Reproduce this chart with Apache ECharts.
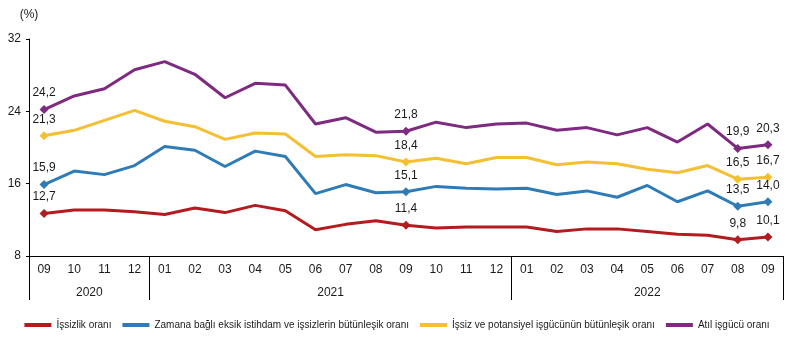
<!DOCTYPE html>
<html>
<head>
    <meta charset="utf-8">
    <title>Issizlik</title>
    <script src="https://cdn.jsdelivr.net/npm/echarts@6/dist/echarts.min.js"></script>
    <style>
        html, body { margin: 0; padding: 0; background: #fff; }
    </style>
</head>
<body>

<div id='line' style="width: 794px; height: 352px;"></div>
<script type="text/javascript">
    // aylar (2020-09 .. 2022-09)
    var months = ['09','10','11','12','01','02','03','04','05','06','07','08','09','10','11','12','01','02','03','04','05','06','07','08','09'];
    var years = ['2020', '2021', '2022'];
    var yearCounts = [4, 12, 9];

    var issizlik = [12.7,13.1,13.1,12.9,12.6,13.3,12.8,13.6,13.0,10.9,11.5,11.9,11.4,11.1,11.2,11.2,11.2,10.7,11.0,11.0,10.7,10.4,10.3,9.8,10.1];
    var zamana = [15.9,17.4,17.0,18.0,20.1,19.7,17.9,19.6,19.0,14.9,15.9,15.0,15.1,15.7,15.5,15.4,15.5,14.8,15.2,14.5,15.8,14.0,15.2,13.5,14.0];
    var potansiyel = [21.3,21.9,23.0,24.1,22.9,22.3,20.9,21.6,21.5,19.0,19.2,19.1,18.4,18.8,18.2,18.9,18.9,18.1,18.4,18.2,17.6,17.2,18.0,16.5,16.7];
    var atil = [24.2,25.7,26.5,28.6,29.5,28.1,25.5,27.1,26.9,22.6,23.3,21.7,21.8,22.8,22.2,22.6,22.7,21.9,22.2,21.4,22.2,20.6,22.6,19.9,20.3];

    // etiketli noktalar
    var marked = [0, 12, 23, 24];

    var names = ['İşsizlik oranı', 'Zamana bağlı eksik istihdam ve işsizlerin bütünleşik oranı', 'İşsiz ve potansiyel işgücünün bütünleşik oranı', 'Atıl işgücü oranı'];
    var colors = ['#b31b1f', '#2f7bb6', '#f4bf32', '#7d2a80'];
    var values = [issizlik, zamana, potansiyel, atil];

    // yil ekseni: yarim ay adimli, boundaryGap false
    var yearData = [];
    var yearTicks = {};
    var yearLabels = {};
    var pos = 0;
    for (var i = 0; i <= months.length * 2; i++) yearData.push('');
    yearTicks[0] = true;
    for (var j = 0; j < years.length; j++) {
        yearData[pos * 2 + yearCounts[j]] = years[j];
        yearLabels[pos * 2 + yearCounts[j]] = true;
        pos += yearCounts[j];
        yearTicks[pos * 2] = true;
    }

    var fmt = function (v) { return v.toFixed(1).replace('.', ','); };

    var series = [];
    for (var s = 0; s < values.length; s++) {
        var data = [];
        for (var k = 0; k < values[s].length; k++) {
            if (marked.indexOf(k) >= 0) {
                data.push({
                    value: values[s][k],
                    symbol: 'diamond',
                    symbolSize: 9,
                    label: { show: true }
                });
            } else {
                data.push(values[s][k]);
            }
        }
        series.push({
            name: names[s],
            type: 'line',
            data: data,
            symbol: 'none',
            showSymbol: true,
            showAllSymbol: true,
            color: colors[s],
            lineStyle: { width: 3, color: colors[s] },
            itemStyle: { color: colors[s] },
            label: {
                show: false,
                position: 'top',
                distance: 6,
                color: '#1a1a1a',
                fontSize: 12,
                fontFamily: 'Liberation Sans',
                formatter: function (p) { return fmt(p.value); }
            },
            animation: false
        });
    }

    var myLine = echarts.init(document.getElementById('line'));
    var lineOption = {
        animation: false,
        textStyle: { fontFamily: 'Liberation Sans' },
        grid: { left: 29, right: 11, top: 39, bottom: 96 },
        legend: {
            data: names,
            left: 'center',
            top: 315,
            icon: 'rect',
            itemWidth: 27,
            itemHeight: 4,
            itemGap: 11,
            textStyle: { fontSize: 10, color: '#1a1a1a', fontFamily: 'Liberation Sans' }
        },
        xAxis: [{
            type: 'category',
            data: months,
            boundaryGap: true,
            axisLine: { lineStyle: { color: '#000', width: 1 } },
            axisTick: { show: false },
            axisLabel: { color: '#1a1a1a', fontSize: 12, margin: 8, interval: 0 },
            splitLine: { show: false }
        }, {
            type: 'category',
            data: yearData,
            position: 'bottom',
            boundaryGap: false,
            axisLine: { show: false },
            axisTick: {
                show: true,
                length: 44,
                lineStyle: { color: '#000', width: 1 },
                interval: function (idx) { return !!yearTicks[idx]; }
            },
            axisLabel: {
                color: '#1a1a1a',
                fontSize: 12,
                margin: 31,
                interval: function (idx) { return !!yearLabels[idx]; }
            },
            splitLine: { show: false }
        }],
        yAxis: [{
            type: 'value',
            min: 8,
            max: 32,
            interval: 8,
            name: '(%)',
            nameLocation: 'end',
            nameGap: 18,
            nameTextStyle: { color: '#1a1a1a', fontSize: 12, align: 'center' },
            axisLine: { show: true, lineStyle: { color: '#000', width: 1 } },
            axisTick: { show: true, length: 3, lineStyle: { color: '#000' } },
            axisLabel: { color: '#1a1a1a', fontSize: 12, margin: 8 },
            splitLine: { show: false }
        }],
        series: series
    };

    myLine.setOption(lineOption);
</script>
</body>
</html>
